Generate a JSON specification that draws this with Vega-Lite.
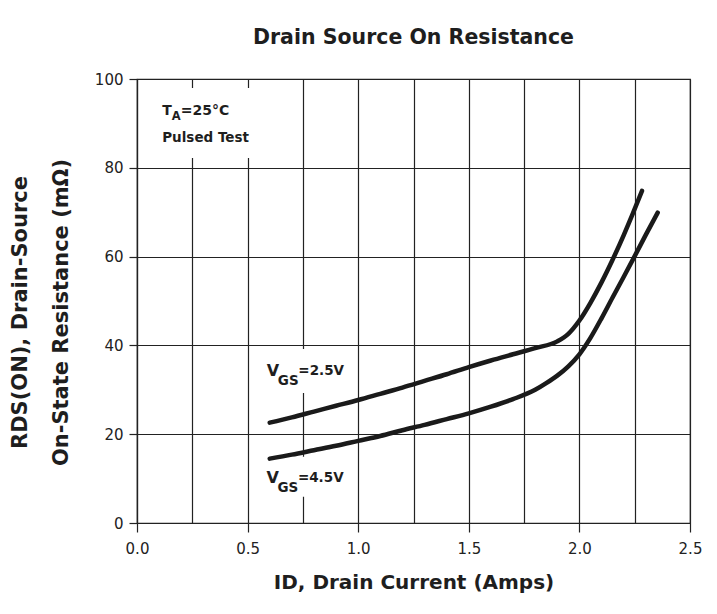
{
  "$schema": "https://vega.github.io/schema/vega-lite/v6.json",
  "width": 553,
  "height": 444,
  "autosize": {"type": "none"},
  "padding": {"left": 137, "top": 79, "right": 27, "bottom": 91},
  "background": "white",
  "title": {
    "text": "Drain Source On Resistance",
    "font": "DejaVu Sans",
    "fontSize": 20.5,
    "fontWeight": "bold",
    "color": "#1e1e1e",
    "baseline": "alphabetic",
    "anchor": "middle",
    "offset": 8
  },
  "config": {
    "view": {"stroke": "#222", "strokeWidth": 1.2},
    "axis": {
      "labelFont": "DejaVu Sans",
      "labelFontSize": 15,
      "labelColor": "#222",
      "titleFont": "DejaVu Sans",
      "titleFontWeight": "bold",
      "titleFontSize": 21,
      "titleColor": "#1e1e1e",
      "domainColor": "#222",
      "domainWidth": 1.2,
      "tickColor": "#222",
      "tickWidth": 1.2,
      "gridColor": "#222",
      "gridWidth": 1.2,
      "gridOpacity": 1
    }
  },
  "datasets": {
    "curves": [
      {"series": "VGS=2.5V", "id": 0.6, "r": 22.6},
      {"series": "VGS=2.5V", "id": 0.7, "r": 23.8},
      {"series": "VGS=2.5V", "id": 0.8, "r": 25.1},
      {"series": "VGS=2.5V", "id": 0.9, "r": 26.4},
      {"series": "VGS=2.5V", "id": 1.0, "r": 27.7},
      {"series": "VGS=2.5V", "id": 1.1, "r": 29.1},
      {"series": "VGS=2.5V", "id": 1.2, "r": 30.5},
      {"series": "VGS=2.5V", "id": 1.3, "r": 32.0},
      {"series": "VGS=2.5V", "id": 1.4, "r": 33.5},
      {"series": "VGS=2.5V", "id": 1.5, "r": 35.1},
      {"series": "VGS=2.5V", "id": 1.6, "r": 36.6},
      {"series": "VGS=2.5V", "id": 1.7, "r": 38.0},
      {"series": "VGS=2.5V", "id": 1.8, "r": 39.4},
      {"series": "VGS=2.5V", "id": 1.9, "r": 40.9},
      {"series": "VGS=2.5V", "id": 1.95, "r": 42.6},
      {"series": "VGS=2.5V", "id": 2.0, "r": 45.6},
      {"series": "VGS=2.5V", "id": 2.05, "r": 49.6},
      {"series": "VGS=2.5V", "id": 2.1, "r": 54.2},
      {"series": "VGS=2.5V", "id": 2.15, "r": 59.3},
      {"series": "VGS=2.5V", "id": 2.2, "r": 64.8},
      {"series": "VGS=2.5V", "id": 2.24, "r": 69.5},
      {"series": "VGS=2.5V", "id": 2.283, "r": 74.8},
      {"series": "VGS=4.5V", "id": 0.6, "r": 14.5},
      {"series": "VGS=4.5V", "id": 0.7, "r": 15.4},
      {"series": "VGS=4.5V", "id": 0.8, "r": 16.4},
      {"series": "VGS=4.5V", "id": 0.9, "r": 17.4},
      {"series": "VGS=4.5V", "id": 1.0, "r": 18.5},
      {"series": "VGS=4.5V", "id": 1.1, "r": 19.6},
      {"series": "VGS=4.5V", "id": 1.2, "r": 20.9},
      {"series": "VGS=4.5V", "id": 1.3, "r": 22.1},
      {"series": "VGS=4.5V", "id": 1.4, "r": 23.4},
      {"series": "VGS=4.5V", "id": 1.5, "r": 24.7},
      {"series": "VGS=4.5V", "id": 1.6, "r": 26.2},
      {"series": "VGS=4.5V", "id": 1.7, "r": 27.9},
      {"series": "VGS=4.5V", "id": 1.8, "r": 30.0},
      {"series": "VGS=4.5V", "id": 1.85, "r": 31.5},
      {"series": "VGS=4.5V", "id": 1.9, "r": 33.2},
      {"series": "VGS=4.5V", "id": 1.95, "r": 35.3},
      {"series": "VGS=4.5V", "id": 2.0, "r": 38.0},
      {"series": "VGS=4.5V", "id": 2.05, "r": 41.7},
      {"series": "VGS=4.5V", "id": 2.1, "r": 46.1},
      {"series": "VGS=4.5V", "id": 2.15, "r": 50.8},
      {"series": "VGS=4.5V", "id": 2.2, "r": 55.4},
      {"series": "VGS=4.5V", "id": 2.25, "r": 60.1},
      {"series": "VGS=4.5V", "id": 2.3, "r": 64.9},
      {"series": "VGS=4.5V", "id": 2.354, "r": 69.9}
    ],
    "labelBoxes": [
      {"label": "TA", "x1": 0.1, "x2": 0.6, "y1": 82.2, "y2": 98.0},
      {"label": "VGS=2.5V", "x1": 0.58, "x2": 0.96, "y1": 29.3, "y2": 39.2},
      {"label": "VGS=4.5V", "x1": 0.58, "x2": 0.96, "y1": 5.9, "y2": 14.9}
    ],
    "vgsLabels": [
      {"id": 0.587, "r": 33.0, "main": "V", "sub": "GS", "rest": "=2.5V"},
      {"id": 0.585, "r": 9.0, "main": "V", "sub": "GS", "rest": "=4.5V"}
    ],
    "taLabel": [
      {"id": 0.114, "r": 92.0, "main": "T", "sub": "A", "rest": "=25°C"}
    ],
    "notes": [
      {"id": 0.114, "r": 85.7, "text": "Pulsed Test"}
    ]
  },
  "encoding": {
    "x": {
      "field": "id",
      "type": "quantitative",
      "scale": {"domain": [0, 2.5], "nice": false, "zero": false},
      "axis": {
        "title": "ID, Drain Current (Amps)",
        "titleFontSize": 20,
        "titleBaseline": "alphabetic",
        "titleY": 65,
        "values": [0, 0.25, 0.5, 0.75, 1, 1.25, 1.5, 1.75, 2, 2.25, 2.5],
        "labelExpr": "(datum.value * 4) % 2 == 0 ? format(datum.value, '.1f') : ''",
        "tickSize": 9,
        "tickOpacity": {"condition": {"test": "(datum.value * 4) % 2 != 0", "value": 0}, "value": 1},
        "labelBaseline": "alphabetic",
        "labelPadding": 21,
        "labelFlush": false,
        "grid": true
      }
    },
    "y": {
      "field": "r",
      "type": "quantitative",
      "scale": {"domain": [0, 100], "nice": false},
      "axis": {
        "title": ["RDS(ON), Drain-Source", "On-State Resistance (mΩ)"],
        "titleBaseline": "alphabetic",
        "titleLineHeight": 41,
        "titleX": -110.5,
        "titleY": 233,
        "titleAlign": "center",
        "titleAngle": 270,
        "values": [0, 20, 40, 60, 80, 100],
        "tickSize": 8,
        "labelPadding": 6,
        "labelFlush": false,
        "grid": true
      }
    }
  },
  "layer": [
    {
      "data": {"name": "labelBoxes"},
      "mark": {"type": "rect", "fill": "white", "stroke": null},
      "encoding": {
        "x": {"field": "x1", "type": "quantitative"},
        "x2": {"field": "x2"},
        "y": {"field": "y1", "type": "quantitative"},
        "y2": {"field": "y2"}
      }
    },
    {
      "data": {"name": "curves"},
      "mark": {"type": "line", "color": "#1a1a1a", "strokeWidth": 4.5, "strokeCap": "round", "strokeJoin": "round", "interpolate": "monotone"},
      "encoding": {
        "detail": {"field": "series", "type": "nominal"}
      }
    },
    {
      "data": {"name": "vgsLabels"},
      "mark": {"type": "text", "font": "DejaVu Sans", "fontWeight": "bold", "fontSize": 16, "align": "left", "baseline": "alphabetic", "color": "#1e1e1e"},
      "encoding": {"text": {"field": "main"}}
    },
    {
      "data": {"name": "vgsLabels"},
      "mark": {"type": "text", "font": "DejaVu Sans", "fontWeight": "bold", "fontSize": 13.5, "align": "left", "baseline": "alphabetic", "color": "#1e1e1e", "dx": 11, "dy": 8.5},
      "encoding": {"text": {"field": "sub"}}
    },
    {
      "data": {"name": "vgsLabels"},
      "mark": {"type": "text", "font": "DejaVu Sans", "fontWeight": "bold", "fontSize": 13.5, "align": "left", "baseline": "alphabetic", "color": "#1e1e1e", "dx": 31.5, "dy": -1.5},
      "encoding": {"text": {"field": "rest"}}
    },
    {
      "data": {"name": "taLabel"},
      "mark": {"type": "text", "font": "DejaVu Sans", "fontWeight": "bold", "fontSize": 14, "align": "left", "baseline": "alphabetic", "color": "#1e1e1e"},
      "encoding": {"text": {"field": "main"}}
    },
    {
      "data": {"name": "taLabel"},
      "mark": {"type": "text", "font": "DejaVu Sans", "fontWeight": "bold", "fontSize": 11.5, "align": "left", "baseline": "alphabetic", "color": "#1e1e1e", "dx": 9.5, "dy": 5.5},
      "encoding": {"text": {"field": "sub"}}
    },
    {
      "data": {"name": "taLabel"},
      "mark": {"type": "text", "font": "DejaVu Sans", "fontWeight": "bold", "fontSize": 14, "align": "left", "baseline": "alphabetic", "color": "#1e1e1e", "dx": 18.5},
      "encoding": {"text": {"field": "rest"}}
    },
    {
      "data": {"name": "notes"},
      "mark": {"type": "text", "font": "DejaVu Sans", "fontWeight": "bold", "fontSize": 13.5, "align": "left", "baseline": "alphabetic", "color": "#1e1e1e"},
      "encoding": {"text": {"field": "text"}}
    }
  ]
}
